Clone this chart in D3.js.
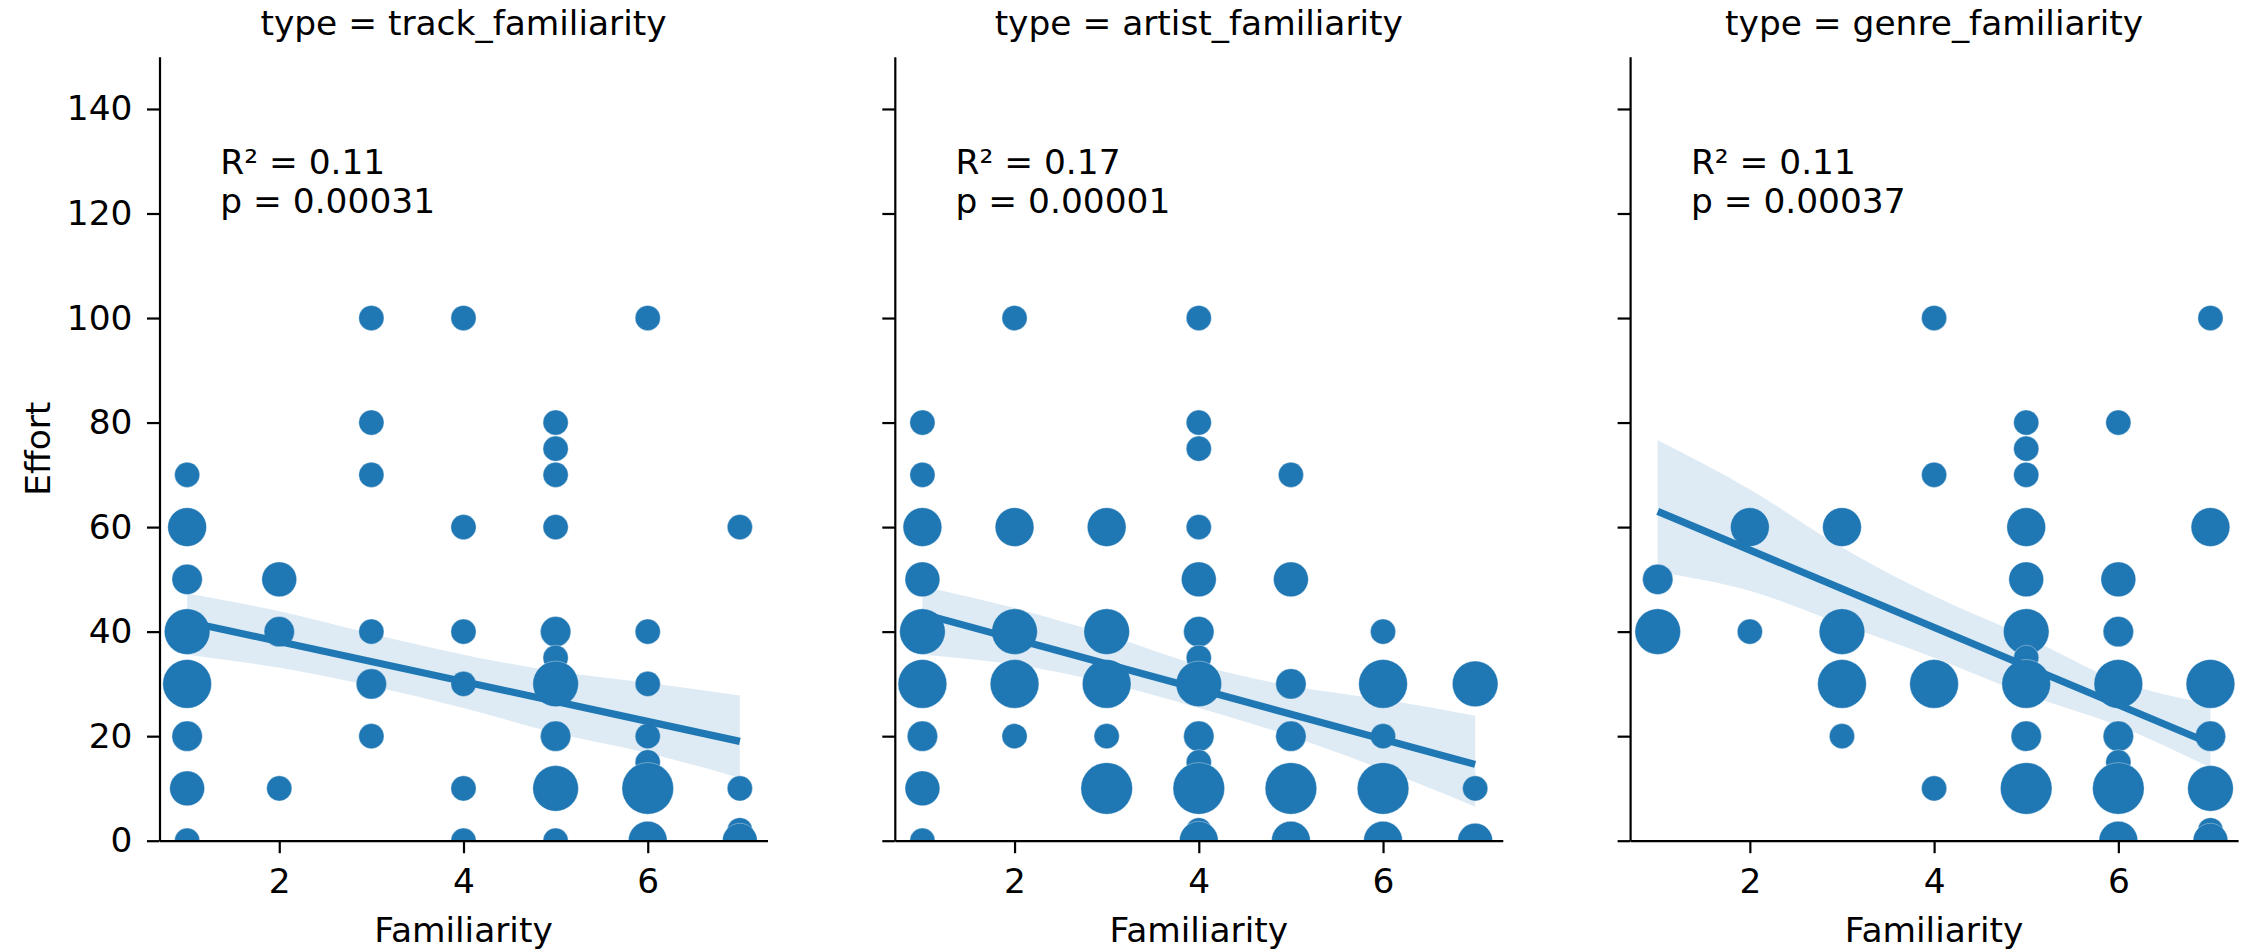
<!DOCTYPE html>
<html>
<head>
<meta charset="utf-8">
<script src="https://cdn.jsdelivr.net/npm/d3@7"></script>
<style>
  body { margin: 0; background: #fff; }
  svg text { font-family: "DejaVu Sans", sans-serif; fill: #000; }
</style>
</head>
<body>
<svg id="chart" width="2244" height="950"></svg>
<script>
// facets
var panelTypes = ["track_familiarity", "artist_familiarity", "genre_familiarity"];

// [familiarity, effort, count]
var trackPoints = [
  [1,70,1],[1,60,4],[1,50,2],[1,40,6],[1,30,7],[1,20,2],[1,10,3],[1,0,1],
  [2,50,3],[2,40,2],[2,10,1],
  [3,100,1],[3,80,1],[3,70,1],[3,40,1],[3,30,2],[3,20,1],
  [4,100,1],[4,60,1],[4,40,1],[4,30,1],[4,10,1],[4,0,1],
  [5,80,1],[5,75,1],[5,70,1],[5,60,1],[5,40,2],[5,35,1],[5,30,6],[5,20,2],[5,10,6],[5,0,1],
  [6,100,1],[6,40,1],[6,30,1],[6,20,1],[6,15,1],[6,10,8],[6,0,4],
  [7,60,1],[7,10,1],[7,2,1],[7,0,3]
];
var artistPoints = [
  [1,80,1],[1,70,1],[1,60,4],[1,50,3],[1,40,6],[1,30,7],[1,20,2],[1,10,3],[1,0,1],
  [2,100,1],[2,60,4],[2,40,6],[2,30,7],[2,20,1],
  [3,60,4],[3,40,6],[3,30,7],[3,20,1],[3,10,8],
  [4,100,1],[4,80,1],[4,75,1],[4,60,1],[4,50,3],[4,40,2],[4,35,1],[4,30,6],[4,20,2],[4,15,1],[4,10,8],[4,2,1],[4,0,4],
  [5,70,1],[5,50,3],[5,30,2],[5,20,2],[5,10,8],[5,0,4],
  [6,40,1],[6,30,7],[6,20,1],[6,10,8],[6,0,4],
  [7,30,6],[7,10,1],[7,0,3]
];
var genrePoints = [
  [1,50,2],[1,40,6],
  [2,60,4],[2,40,1],
  [3,60,4],[3,40,6],[3,30,7],[3,20,1],
  [4,100,1],[4,70,1],[4,30,7],[4,10,1],
  [5,80,1],[5,75,1],[5,70,1],[5,60,4],[5,50,3],[5,40,6],[5,35,1],[5,30,7],[5,20,2],[5,10,8],
  [6,80,1],[6,50,3],[6,40,2],[6,30,7],[6,20,2],[6,15,1],[6,10,8],[6,0,4],
  [7,100,1],[7,60,4],[7,30,7],[7,20,2],[7,10,6],[7,2,1],[7,0,3]
];

// regression line: effort at familiarity 1 and 7
var fitTrack = [41.9, 19.0];
var fitArtist = [43.4, 14.6];
var fitGenre = [63.0, 18.6];

// confidence band read at familiarity 1..7
var ciX = [1, 2, 3, 4, 5, 6, 7];
var ciTrackUpper = [47.3, 43.9, 39.6, 35.6, 32.4, 30.2, 27.8];
var ciTrackLower = [35.6, 33.1, 29.6, 25.4, 20.6, 16.8, 12.0];
var ciArtistUpper = [48.7, 44.5, 39.4, 33.6, 29.6, 27.0, 23.9];
var ciArtistLower = [35.6, 33.7, 30.2, 25.4, 20.0, 13.6, 6.5];
var ciGenreUpper = [76.6, 67.2, 56.1, 46.8, 39.0, 30.6, 26.1];
var ciGenreLower = [51.4, 47.8, 41.4, 35.0, 28.0, 22.0, 14.0];

var r2Labels = ["0.11", "0.17", "0.11"];
var pLabels = ["0.00031", "0.00001", "0.00037"];

var yTicks = [0, 20, 40, 60, 80, 100, 120, 140];
var xTicks = [2, 4, 6];

drawChart();

function drawChart() {
  var panels = [
    {type: panelTypes[0], points: trackPoints, fit: fitTrack, up: ciTrackUpper, lo: ciTrackLower, r2: r2Labels[0], p: pLabels[0]},
    {type: panelTypes[1], points: artistPoints, fit: fitArtist, up: ciArtistUpper, lo: ciArtistLower, r2: r2Labels[1], p: pLabels[1]},
    {type: panelTypes[2], points: genrePoints, fit: fitGenre, up: ciGenreUpper, lo: ciGenreLower, r2: r2Labels[2], p: pLabels[2]}
  ];

  var blue = "#1f77b4";
  var fs = 34.4;

  var svg = d3.select("#chart");
  var plotTop = 56.7, plotBottom = 840.7;
  var panelW = 608, panelLeft = [159.5, 894.8, 1630.1];

  var y = d3.scaleLinear().domain([0, 150]).range([plotBottom, plotTop]);
  // marker area grows linearly with count
  var area = d3.scaleLinear().domain([1, 8]).range([12.6 * 12.6, 25.8 * 25.8]);

  panels.forEach(function(pn, i) {
    var x0 = panelLeft[i];
    var x = d3.scaleLinear().domain([0.7, 7.3]).range([x0, x0 + panelW]);
    var g = svg.append("g");

    g.append("clipPath").attr("id", "clip" + i)
      .append("rect").attr("x", x0).attr("y", plotTop).attr("width", panelW).attr("height", plotBottom - plotTop);

    var plot = g.append("g").attr("clip-path", "url(#clip" + i + ")");

    // CI band
    var band = ciX.map(function(v, j) { return [v, pn.up[j], pn.lo[j]]; });
    plot.append("path")
      .datum(band)
      .attr("fill", blue)
      .attr("fill-opacity", 0.15)
      .attr("d", d3.area()
        .curve(d3.curveMonotoneX)
        .x(function(d) { return x(d[0]); })
        .y0(function(d) { return y(d[2]); })
        .y1(function(d) { return y(d[1]); }));

    // points
    plot.selectAll("circle")
      .data(pn.points)
      .enter().append("circle")
      .attr("cx", function(d) { return x(d[0]); })
      .attr("cy", function(d) { return y(d[1]); })
      .attr("r", function(d) { return Math.sqrt(area(d[2])); })
      .attr("fill", blue)
      .attr("stroke", "#fff")
      .attr("stroke-opacity", 0.5)
      .attr("stroke-width", 0.7);

    // regression line
    plot.append("path")
      .datum([[1, pn.fit[0]], [7, pn.fit[1]]])
      .attr("fill", "none")
      .attr("stroke", blue)
      .attr("stroke-width", 7.2)
      .attr("d", d3.line()
        .x(function(d) { return x(d[0]); })
        .y(function(d) { return y(d[1]); }));

    // axes
    var yAxis = d3.axisLeft(y).tickValues(yTicks).tickSize(12.5).tickSizeOuter(0).tickPadding(14.5)
      .tickFormat(i > 0 ? "" : d3.format("d"));
    var ya = g.append("g").attr("transform", "translate(" + x0 + ",0)").call(yAxis);

    var xAxis = d3.axisBottom(x).tickValues(xTicks).tickSize(12.5).tickSizeOuter(0).tickPadding(15)
      .tickFormat(d3.format("d"));
    var xa = g.append("g").attr("transform", "translate(0," + plotBottom + ")").call(xAxis);

    [ya, xa].forEach(function(a) {
      a.select(".domain").attr("stroke", "#000").attr("stroke-width", 2.2);
      a.selectAll(".tick line").attr("stroke", "#000").attr("stroke-width", 2.2);
      a.selectAll(".tick text").attr("font-size", fs).attr("fill", "#000")
        .attr("font-family", "DejaVu Sans");
    });

    // title
    g.append("text")
      .attr("x", x0 + panelW / 2)
      .attr("y", 35)
      .attr("text-anchor", "middle")
      .attr("font-size", fs)
      .text("type = " + pn.type);

    // x label
    g.append("text")
      .attr("x", x0 + panelW / 2)
      .attr("y", 941.5)
      .attr("text-anchor", "middle")
      .attr("font-size", fs)
      .text("Familiarity");

    // stats annotation
    var tx = x0 + panelW * 0.1;
    g.append("text").attr("x", tx).attr("y", 174).attr("font-size", fs).text("R\u00b2 = " + pn.r2);
    g.append("text").attr("x", tx).attr("y", 213).attr("font-size", fs).text("p = " + pn.p);
  });

  // y label
  svg.append("text")
    .attr("transform", "translate(50," + (plotTop + plotBottom) / 2 + ") rotate(-90)")
    .attr("text-anchor", "middle")
    .attr("font-size", fs)
    .text("Effort");
}
</script>
</body>
</html>
